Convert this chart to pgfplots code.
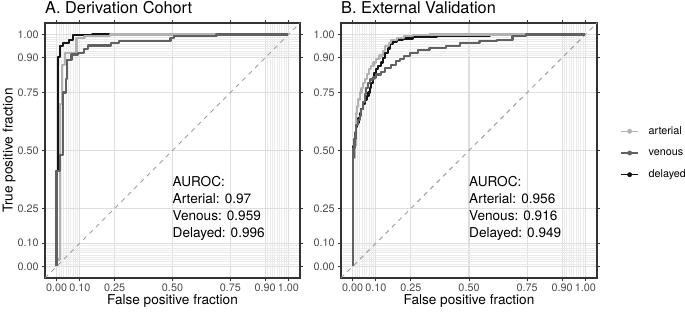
\documentclass[border=0pt]{standalone}
\usepackage{pgfplots}
\pgfplotsset{compat=1.18}
\usepackage{fontspec}
\setmainfont{TeX Gyre Heros}
\definecolor{cart}{gray}{0.70}
\definecolor{cven}{gray}{0.38}
\definecolor{cdel}{gray}{0.08}
\definecolor{gridmaj}{gray}{0.87}
\definecolor{gridmin}{gray}{0.92}
\definecolor{tickc}{gray}{0.2}
\definecolor{labc}{gray}{0.3}
\definecolor{dashc}{gray}{0.62}
\newcommand{\fs}[1]{\fontsize{#1}{#1}\selectfont}
\pgfplotsset{
  rocaxis/.style={
    scale only axis, width=255bp, height=255bp,
    xmin=-0.05, xmax=1.05, ymin=-0.05, ymax=1.05,
    xtick={0,0.1,0.25,0.5,0.75,0.9,1},
    ytick={0,0.1,0.25,0.5,0.75,0.9,1},
    xticklabels={0.00,0.10,0.25,0.50,0.75,0.90,1.00},
    yticklabels={0.00,0.10,0.25,0.50,0.75,0.90,1.00},
    minor xtick={0.01,0.02,0.03,0.04,0.05,0.06,0.07,0.08,0.09,0.91,0.92,0.93,0.94,0.95,0.96,0.97,0.98,0.99},
    minor ytick={0.01,0.02,0.03,0.04,0.05,0.06,0.07,0.08,0.09,0.91,0.92,0.93,0.94,0.95,0.96,0.97,0.98,0.99},
    grid=both,
    major grid style={gridmaj, line width=1.1bp},
    minor grid style={gridmin, line width=0.55bp},
    axis line style={tickc, line width=1.1bp},
    tick align=outside, major tick length=3.4bp, minor tick length=0pt,
    every tick/.style={tickc, line width=1bp},
    tick label style={font=\fs{10.8bp}, text=labc},
    xticklabel style={inner sep=0pt, yshift=-2.7bp},
    yticklabel style={inner sep=0pt, xshift=-2.7bp},
    clip=true,
  },
  roc/.style={line width=2.2bp, line join=round},
  dia/.style={dashc, line width=1bp, dash pattern=on 4.5bp off 4.5bp},
}
\begin{document}
\begin{tikzpicture}
\path[use as bounding box] (0,0) rectangle (685bp,312bp);
% ---------- Panel A ----------
\begin{axis}[rocaxis, at={(45bp,34bp)}, anchor=south west]
\addplot[dia] coordinates {(-0.05,-0.05) (1.05,1.05)};
% delayed
\addplot[roc, cdel] coordinates {(0,0) (0,0.41) (0.005,0.41) (0.005,0.904) (0.014,0.904) (0.014,0.95) (0.029,0.95) (0.029,0.964) (0.053,0.964) (0.053,0.976) (0.072,0.976) (0.072,0.997) (0.154,0.997) (0.154,1) (1,1)};
% arterial
\addplot[roc, cart] coordinates {(0,0) (0,0.03) (0.014,0.03) (0.014,0.70) (0.024,0.70) (0.024,0.87) (0.035,0.87) (0.035,0.92) (0.086,0.92) (0.086,0.985) (0.12,0.985) (0.12,0.993) (0.23,0.993) (0.23,1) (1,1)};
% venous
\addplot[roc, cven] coordinates {(0,0) (0,0.41) (0.014,0.41) (0.014,0.48) (0.029,0.48) (0.029,0.75) (0.039,0.75) (0.039,0.81) (0.046,0.81) (0.046,0.89) (0.064,0.89) (0.064,0.914) (0.093,0.914) (0.093,0.921) (0.118,0.921) (0.118,0.938) (0.135,0.938) (0.135,0.953) (0.233,0.953) (0.233,0.964) (0.268,0.964) (0.268,0.974) (0.491,0.974) (0.491,0.986) (0.505,0.986) (0.505,0.993) (0.69,0.993) (0.69,1) (1,1)};
\node[anchor=base west, inner sep=0pt, font=\fs{13.6bp}] at (axis cs:0.5,0.3466) {AUROC:};
\node[anchor=base west, inner sep=0pt, font=\fs{13.6bp}] at (axis cs:0.5,0.2733) {Arterial: 0.97};
\node[anchor=base west, inner sep=0pt, font=\fs{13.6bp}] at (axis cs:0.5,0.2000) {Venous: 0.959};
\node[anchor=base west, inner sep=0pt, font=\fs{13.6bp}] at (axis cs:0.5,0.1267) {Delayed: 0.996};
\end{axis}
% ---------- Panel B ----------
\begin{axis}[rocaxis, at={(341bp,34bp)}, anchor=south west, width=256bp,
  legend style={at={(1,0.5)}, anchor=west, xshift=23.7bp, yshift=-2.5bp, draw=none, fill=none,
    inner sep=0pt, outer sep=0pt, font=\fs{10.8bp}, row sep=11.2bp, column sep=10bp,
    nodes={inner sep=0pt, text height=8bp, text depth=2.5bp}},
  legend cell align=left,
  legend image code/.code={\draw[#1, line width=1.3bp] (0bp,0bp) -- (16.6bp,0bp); \fill[#1] (8.3bp,0bp) circle (2.2bp);},
]
\addplot[dia, forget plot] coordinates {(-0.05,-0.05) (1.05,1.05)};
% delayed
\addplot[roc, cdel, const plot mark right, forget plot] coordinates {(0,0) (0,0.43) (0.004,0.48) (0.008,0.52) (0.012,0.55) (0.016,0.57) (0.02,0.60) (0.025,0.62) (0.03,0.64) (0.036,0.66) (0.045,0.68) (0.052,0.70) (0.06,0.72) (0.068,0.735) (0.075,0.75) (0.08,0.77) (0.086,0.79) (0.092,0.81) (0.10,0.835) (0.11,0.85) (0.123,0.865) (0.13,0.88) (0.14,0.90) (0.152,0.92) (0.16,0.94) (0.173,0.96) (0.19,0.97) (0.216,0.978) (0.26,0.983) (0.30,0.988) (0.36,0.99) (0.40,0.993) (0.45,0.996) (0.59,0.996) (0.62,1.0) (1,1)};
% arterial
\addplot[roc, cart, const plot mark right, forget plot] coordinates {(0,0) (0,0.44) (0.01,0.47) (0.012,0.52) (0.014,0.57) (0.016,0.62) (0.02,0.66) (0.023,0.69) (0.03,0.72) (0.038,0.75) (0.045,0.77) (0.052,0.79) (0.06,0.81) (0.07,0.83) (0.08,0.85) (0.09,0.865) (0.10,0.88) (0.115,0.895) (0.13,0.91) (0.14,0.93) (0.155,0.95) (0.166,0.965) (0.19,0.975) (0.22,0.985) (0.26,0.993) (0.33,0.997) (0.43,1.0) (1,1)};
% venous
\addplot[roc, cven, const plot mark right, forget plot] coordinates {(0,0) (0,0.43) (0.004,0.47) (0.008,0.51) (0.012,0.55) (0.016,0.58) (0.022,0.61) (0.03,0.63) (0.037,0.65) (0.045,0.68) (0.052,0.71) (0.059,0.745) (0.065,0.77) (0.075,0.79) (0.086,0.806) (0.10,0.815) (0.123,0.828) (0.14,0.84) (0.166,0.856) (0.185,0.87) (0.202,0.885) (0.22,0.895) (0.245,0.906) (0.28,0.92) (0.33,0.935) (0.40,0.943) (0.46,0.95) (0.545,0.964) (0.62,0.972) (0.687,0.978) (0.745,0.993) (0.83,1.0) (1,1)};
\addlegendimage{cart}\addlegendentry{arterial}
\addlegendimage{cven}\addlegendentry{venous}
\addlegendimage{cdel}\addlegendentry{delayed}
\node[anchor=base west, inner sep=0pt, font=\fs{13.6bp}] at (axis cs:0.5,0.3466) {AUROC:};
\node[anchor=base west, inner sep=0pt, font=\fs{13.6bp}] at (axis cs:0.5,0.2733) {Arterial: 0.956};
\node[anchor=base west, inner sep=0pt, font=\fs{13.6bp}] at (axis cs:0.5,0.2000) {Venous: 0.916};
\node[anchor=base west, inner sep=0pt, font=\fs{13.6bp}] at (axis cs:0.5,0.1267) {Delayed: 0.949};
\end{axis}
% ---------- titles and labels ----------
\node[anchor=base west, inner sep=0pt, font=\fs{16.3bp}] at (45bp,298.7bp) {A. Derivation Cohort};
\node[anchor=base west, inner sep=0pt, font=\fs{16.3bp}] at (341bp,298.7bp) {B. External Validation};
\node[anchor=base, inner sep=0pt, font=\fs{13.6bp}] at (172.5bp,7.5bp) {False positive fraction};
\node[anchor=base, inner sep=0pt, font=\fs{13.6bp}] at (469bp,7.5bp) {False positive fraction};
\node[anchor=base, rotate=90, inner sep=0pt, font=\fs{13.6bp}] at (12.5bp,161.5bp) {True positive fraction};
\end{tikzpicture}
\end{document}
